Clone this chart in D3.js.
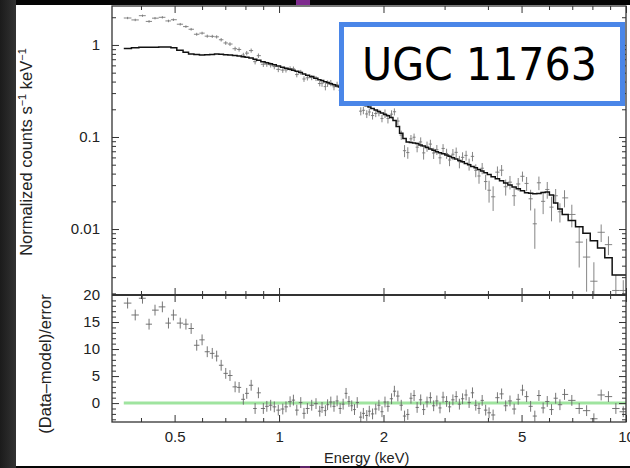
<!DOCTYPE html>
<html>
<head>
<meta charset="utf-8">
<script src="https://cdn.jsdelivr.net/npm/d3@7"></script>
<style>
  body { margin: 0; background: #000; }
  svg { display: block; }
</style>
</head>
<body>
<div id="chart"></div>
<script>
// spectrum bins (keV)
var binE = [0.366,0.385,0.404,0.422,0.439,0.461,0.480,0.496,0.519,0.539,0.558,0.579,0.600,0.621,0.642,0.661,0.681,0.702,0.722,0.747,0.767,0.789,0.807,0.831,0.853,0.872,0.901,0.922,0.946,0.969,0.995,1.025,1.047,1.076,1.100,1.125,1.155,1.180,1.207,1.242,1.278,1.310,
  1.33,1.36,1.38,1.41,1.44,1.47,1.50,1.53,1.56,1.59,1.62,1.65,1.68,1.72,1.75,1.79,1.82,1.86,1.90,1.94,1.98,
  2.02,2.06,2.11,2.15,2.20,2.25,2.30,2.35,2.40,2.45,2.50,
  2.56,2.61,2.67,2.73,2.79,2.85,2.91,2.97,3.04,3.10,
  3.17,3.24,3.31,3.38,3.46,3.53,3.61,3.69,3.77,3.85,3.94,
  4.03,4.14,4.26,4.38,4.50,4.63,4.76,4.89,5.03,
  5.17,5.31,5.46,5.61,5.77,5.93,6.10,6.27,6.45,
  6.65,6.98,7.33,7.70,8.08,8.48,8.90,9.35,9.82];

// folded model, counts s^-1 keV^-1
var model = [0.914,0.930,0.944,0.946,0.946,0.949,0.951,0.935,0.876,0.831,0.798,0.786,0.779,0.784,0.790,0.796,0.794,0.784,0.777,0.767,0.757,0.744,0.733,0.721,0.701,0.684,0.658,0.642,0.623,0.608,0.591,0.572,0.560,0.544,0.532,0.519,0.502,0.484,0.469,0.453,0.435,0.420,
  0.410,0.398,0.390,0.380,0.369,0.359,0.350,0.331,0.314,0.298,0.283,0.269,0.256,0.241,0.230,0.218,0.212,0.204,0.197,0.189,0.182,
  0.176,0.170,0.163,0.151,0.130,0.110,0.0965,0.0880,0.0869,0.0861,0.0850,
  0.0820,0.0796,0.0771,0.0741,0.0717,0.0692,0.0673,0.0657,0.0637,0.0618,
  0.0596,0.0577,0.0557,0.0537,0.0515,0.0499,0.0479,0.0463,0.0443,0.0426,0.0408,
  0.0391,0.0371,0.0352,0.0334,0.0317,0.0301,0.0287,0.0274,0.0261,
  0.0248,0.0245,0.0241,0.0243,0.0249,0.0252,0.0235,0.0192,0.0165,
  0.0144,0.0124,0.0106,0.00898,0.00748,0.00623,0.00489,0.00316,0.00316];

// measured counts
var counts = [1.962,1.870,2.080,1.802,1.955,1.997,1.824,1.880,1.680,1.583,1.481,1.307,1.344,1.246,1.240,1.225,1.139,1.051,1.023,0.910,0.893,0.776,0.815,0.869,0.658,0.765,0.617,0.618,0.607,0.582,0.543,0.533,0.536,0.553,0.550,0.477,0.505,0.427,0.440,0.442,0.432,0.381,
  0.384,0.353,0.381,0.386,0.351,0.370,0.322,0.326,0.359,0.305,0.272,0.243,0.258,0.191,0.195,0.178,0.187,0.171,0.180,0.183,0.159,
  0.180,0.159,0.177,0.188,0.149,0.105,0.0710,0.0677,0.0955,0.0994,0.0775,
  0.0884,0.0672,0.0791,0.0837,0.0670,0.0728,0.0594,0.0751,0.0662,0.0562,
  0.0650,0.0681,0.0540,0.0601,0.0631,0.0506,0.0616,0.0435,0.0377,0.0458,0.0328,
  0.0264,0.0224,0.0415,0.0436,0.0288,0.0323,0.0230,0.0309,0.0374,
  0.0313,0.0213,0.0114,0.0318,0.0200,0.0269,0.0173,0.0230,0.0154,
  0.0218,0.0144,0.00721,0.00496,0.00271,0.00922,0.00677,0.00215,0.00215];

// 1-sigma error as a fraction of the model
var errFrac = [0.062,0.062,0.062,0.062,0.062,0.062,0.062,0.062,0.062,0.062,0.062,0.062,0.062,0.062,0.062,0.062,0.062,0.062,0.062,0.062,0.062,0.062,0.062,0.062,0.062,0.062,0.062,0.062,0.062,0.062,0.062,0.062,0.062,0.062,0.062,0.062,0.062,0.062,0.062,0.062,0.062,0.062,
  0.08,0.08,0.08,0.08,0.08,0.08,0.08,0.08,0.08,0.08,0.08,0.08,0.08,0.08,0.08,0.08,0.08,0.08,0.08,0.08,0.08,
  0.11,0.11,0.11,0.11,0.11,0.11,0.11,0.11,0.11,0.11,0.11,
  0.13,0.13,0.13,0.13,0.13,0.13,0.13,0.13,0.13,0.13,
  0.15,0.15,0.15,0.15,0.15,0.15,0.15,0.15,0.15,0.15,0.15,
  0.18,0.18,0.18,0.18,0.18,0.18,0.18,0.18,0.18,
  0.22,0.22,0.22,0.22,0.22,0.22,0.22,0.22,0.22,
  0.32,0.32,0.32,0.32,0.22,0.32,0.32,0.32,0.20];

// (data-model)/error
var resid = [18.5,16.3,19.4,14.6,17.2,17.8,14.8,16.3,14.8,14.6,13.8,10.7,11.7,9.5,9.2,8.7,7.0,5.5,5.1,3.0,2.9,0.7,1.8,3.3,-1.0,1.9,-1.0,-0.6,-0.4,-0.7,-1.3,-1.1,-0.7,0.25,0.55,-1.3,0.1,-1.9,-1.0,-0.4,-0.1,-1.5,
  -0.8,-1.4,-0.3,0.2,-0.6,0.4,-1.0,-0.2,1.8,0.3,-0.5,-1.2,0.1,-2.6,-1.9,-2.3,-1.5,-2.0,-1.1,-0.4,-1.6,
  0.2,-0.6,0.8,2.2,1.3,-0.4,-2.4,-2.1,0.9,1.4,-0.8,
  0.6,-1.2,0.2,1.0,-0.5,0.4,-0.9,1.1,0.3,-0.7,
  0.6,1.2,-0.2,0.8,1.5,0.1,1.9,-0.4,-1.0,0.5,-1.3,
  -1.8,-2.2,1.0,1.7,-0.5,0.4,-1.1,0.7,2.4,
  1.2,-0.6,-2.4,1.4,-0.9,0.3,-1.2,0.9,-0.3,
  1.6,0.5,-1.0,-1.4,-2.9,1.5,1.2,-1.0,-1.6];

var xMajor = [0.5, 1, 2, 5, 10];
var xMinor = [0.4, 0.6, 0.7, 0.8, 0.9, 3, 4, 6, 7, 8, 9];
var yMajor = [0.01, 0.1, 1];
var rMajor = [0, 5, 10, 15, 20];
var title = "UGC 11763";

var W = 630, H = 468;
var P = {left: 112, right: 626, top: 6, mid: 295, bottom: 422};
var axisFont = "'Liberation Sans', Arial, Helvetica, sans-serif";

var svg = d3.select("#chart").append("svg")
    .attr("width", W)
    .attr("height", H);

// screenshot frame around the plot
var defs = svg.append("defs");
var grad = defs.append("linearGradient").attr("id", "edge")
    .attr("x1", 0).attr("x2", 1).attr("y1", 0).attr("y2", 0);
grad.append("stop").attr("offset", 0).attr("stop-color", "#1b1b1b");
grad.append("stop").attr("offset", 1).attr("stop-color", "#333");
svg.append("rect").attr("width", W).attr("height", H).attr("fill", "#050505");
svg.append("rect").attr("x", 0).attr("y", 0).attr("width", 16).attr("height", H).attr("fill", "url(#edge)");
svg.append("rect").attr("x", 16).attr("y", 5).attr("width", W - 16).attr("height", 461).attr("fill", "#fff");
svg.append("rect").attr("x", 296).attr("y", 0).attr("width", 14).attr("height", 5).attr("fill", "#7e2a8e");
svg.append("rect").attr("x", 300).attr("y", 466).attr("width", 10).attr("height", 2).attr("fill", "#5a2466");

// scales
var x = d3.scaleLog().domain([0.33, 10]).range([P.left, P.right]);
var y = d3.scaleLog().domain([0.00192, 2.65]).range([P.mid, P.top]);
var yr = d3.scaleLinear().domain([-3.5, 20]).range([P.bottom, P.mid]);

// bin edges halfway (in log) between neighbouring channels
var bins = binE.map(function(e, i) {
  var prev = i > 0 ? binE[i - 1] : e * e / binE[i + 1];
  var next = i < binE.length - 1 ? binE[i + 1] : e * e / binE[i - 1];
  return {e: e, lo: Math.sqrt(prev * e), hi: Math.sqrt(e * next),
          m: model[i], c: counts[i], err: errFrac[i] * model[i], r: resid[i]};
});

defs.append("clipPath").attr("id", "clipUp").append("rect")
    .attr("x", P.left).attr("y", P.top).attr("width", P.right - P.left).attr("height", P.mid - P.top);
defs.append("clipPath").attr("id", "clipLo").append("rect")
    .attr("x", P.left).attr("y", P.mid).attr("width", P.right - P.left).attr("height", P.bottom - P.mid);

// ---- upper panel: data crosses + model histogram
var up = svg.append("g").attr("clip-path", "url(#clipUp)");
var yFloor = y.domain()[0] / 2;

up.selectAll(".hbar").data(bins).enter().append("line")
    .attr("x1", function(d) { return x(d.lo); })
    .attr("x2", function(d) { return x(d.hi); })
    .attr("y1", function(d) { return y(d.c); })
    .attr("y2", function(d) { return y(d.c); })
    .attr("stroke", "#777").attr("stroke-width", 0.9);
up.selectAll(".vbar").data(bins).enter().append("line")
    .attr("x1", function(d) { return x(d.e); })
    .attr("x2", function(d) { return x(d.e); })
    .attr("y1", function(d) { return y(Math.max(d.c - d.err, yFloor)); })
    .attr("y2", function(d) { return y(d.c + d.err); })
    .attr("stroke", "#777").attr("stroke-width", 0.9);

var steps = [];
bins.forEach(function(d) { steps.push([d.lo, d.m]); steps.push([d.hi, d.m]); });
up.append("path")
    .datum(steps)
    .attr("fill", "none")
    .attr("stroke", "#111")
    .attr("stroke-width", 1.5)
    .attr("d", d3.line()
      .x(function(d) { return x(d[0]); })
      .y(function(d) { return y(d[1]); }));

// ---- lower panel: residuals
var lo = svg.append("g").attr("clip-path", "url(#clipLo)");
lo.append("line")
    .attr("x1", x(bins[0].lo)).attr("x2", P.right)
    .attr("y1", yr(0)).attr("y2", yr(0))
    .attr("stroke", "#9fe49f").attr("stroke-width", 3);
lo.selectAll(".rh").data(bins).enter().append("line")
    .attr("x1", function(d) { return x(d.lo); })
    .attr("x2", function(d) { return x(d.hi); })
    .attr("y1", function(d) { return yr(d.r); })
    .attr("y2", function(d) { return yr(d.r); })
    .attr("stroke", "#666").attr("stroke-width", 0.9);
lo.selectAll(".rv").data(bins).enter().append("line")
    .attr("x1", function(d) { return x(d.e); })
    .attr("x2", function(d) { return x(d.e); })
    .attr("y1", function(d) { return yr(d.r - 1); })
    .attr("y2", function(d) { return yr(d.r + 1); })
    .attr("stroke", "#666").attr("stroke-width", 0.9);

// ---- axes (inward ticks on all sides, pgplot style)
function styleAxis(g) {
  g.select(".domain").remove();
  g.selectAll(".tick line").attr("stroke", "#333").attr("stroke-width", 1);
  g.selectAll(".tick text").attr("fill", "#222");
  g.attr("font-family", axisFont).attr("font-size", 15);
}
function addAxis(axis, tx, ty) {
  svg.append("g").attr("transform", "translate(" + tx + "," + ty + ")").call(axis).call(styleAxis);
}
var noLab = function() { return ""; };
var lab = function(d) { return d; };
var yMinor = y.ticks().filter(function(v) { return yMajor.indexOf(v) < 0; });
var rMinor = yr.ticks(25).filter(function(v) { return rMajor.indexOf(v) < 0; });

// upper panel
addAxis(d3.axisLeft(y).tickValues(yMajor).tickSize(-7).tickPadding(12).tickFormat(lab), P.left, 0);
addAxis(d3.axisLeft(y).tickValues(yMinor).tickSize(-4).tickFormat(noLab), P.left, 0);
addAxis(d3.axisRight(y).tickValues(yMajor).tickSize(-7).tickFormat(noLab), P.right, 0);
addAxis(d3.axisRight(y).tickValues(yMinor).tickSize(-4).tickFormat(noLab), P.right, 0);
addAxis(d3.axisTop(x).tickValues(xMajor).tickSize(-7).tickFormat(noLab), 0, P.top);
addAxis(d3.axisTop(x).tickValues(xMinor).tickSize(-4).tickFormat(noLab), 0, P.top);
addAxis(d3.axisBottom(x).tickValues(xMajor).tickSize(-7).tickFormat(noLab), 0, P.mid);
addAxis(d3.axisBottom(x).tickValues(xMinor).tickSize(-4).tickFormat(noLab), 0, P.mid);

// lower panel
addAxis(d3.axisTop(x).tickValues(xMajor).tickSize(-7).tickFormat(noLab), 0, P.mid);
addAxis(d3.axisTop(x).tickValues(xMinor).tickSize(-4).tickFormat(noLab), 0, P.mid);
addAxis(d3.axisBottom(x).tickValues(xMajor).tickSize(-7).tickPadding(9).tickFormat(lab), 0, P.bottom);
addAxis(d3.axisBottom(x).tickValues(xMinor).tickSize(-4).tickFormat(noLab), 0, P.bottom);
addAxis(d3.axisLeft(yr).tickValues(rMajor).tickSize(-7).tickPadding(12).tickFormat(lab), P.left, 0);
addAxis(d3.axisLeft(yr).tickValues(rMinor).tickSize(-4).tickFormat(noLab), P.left, 0);
addAxis(d3.axisRight(yr).tickValues(rMajor).tickSize(-7).tickFormat(noLab), P.right, 0);
addAxis(d3.axisRight(yr).tickValues(rMinor).tickSize(-4).tickFormat(noLab), P.right, 0);

// frames
svg.append("rect")
    .attr("x", P.left).attr("y", P.top)
    .attr("width", P.right - P.left).attr("height", P.bottom - P.top)
    .attr("fill", "none").attr("stroke", "#333").attr("stroke-width", 1.3);
svg.append("line")
    .attr("x1", P.left).attr("x2", P.right).attr("y1", P.mid).attr("y2", P.mid)
    .attr("stroke", "#333").attr("stroke-width", 2);

// axis titles
svg.append("text")
    .attr("x", 366.7).attr("y", 463)
    .attr("text-anchor", "middle")
    .attr("font-family", axisFont).attr("font-size", 14.6).attr("fill", "#222")
    .text("Energy (keV)");

var yl = svg.append("text")
    .attr("transform", "translate(31.5,152) rotate(-90)")
    .attr("text-anchor", "middle")
    .attr("font-family", axisFont).attr("font-size", 16.5).attr("fill", "#222");
yl.append("tspan").text("Normalized counts s");
yl.append("tspan").attr("dy", -6).attr("font-size", 11).text("\u22121");
yl.append("tspan").attr("dy", 6).text(" keV");
yl.append("tspan").attr("dy", -6).attr("font-size", 11).text("\u22121");

svg.append("text")
    .attr("transform", "translate(50.5,364) rotate(-90)")
    .attr("text-anchor", "middle")
    .attr("font-family", axisFont).attr("font-size", 16.5).attr("fill", "#222")
    .text("(Data\u2013model)/error");

// source label box
svg.append("rect")
    .attr("x", 341.5).attr("y", 24.5).attr("width", 281).attr("height", 79)
    .attr("fill", "#fff").attr("stroke", "#4a86e8").attr("stroke-width", 5);
svg.append("text")
    .attr("x", 479.5).attr("y", 80)
    .attr("text-anchor", "middle")
    .attr("font-family", "'DejaVu Sans', Verdana, sans-serif")
    .attr("font-size", 45)
    .attr("textLength", 235).attr("lengthAdjust", "spacingAndGlyphs")
    .attr("fill", "#000")
    .text(title);
</script>
</body>
</html>
